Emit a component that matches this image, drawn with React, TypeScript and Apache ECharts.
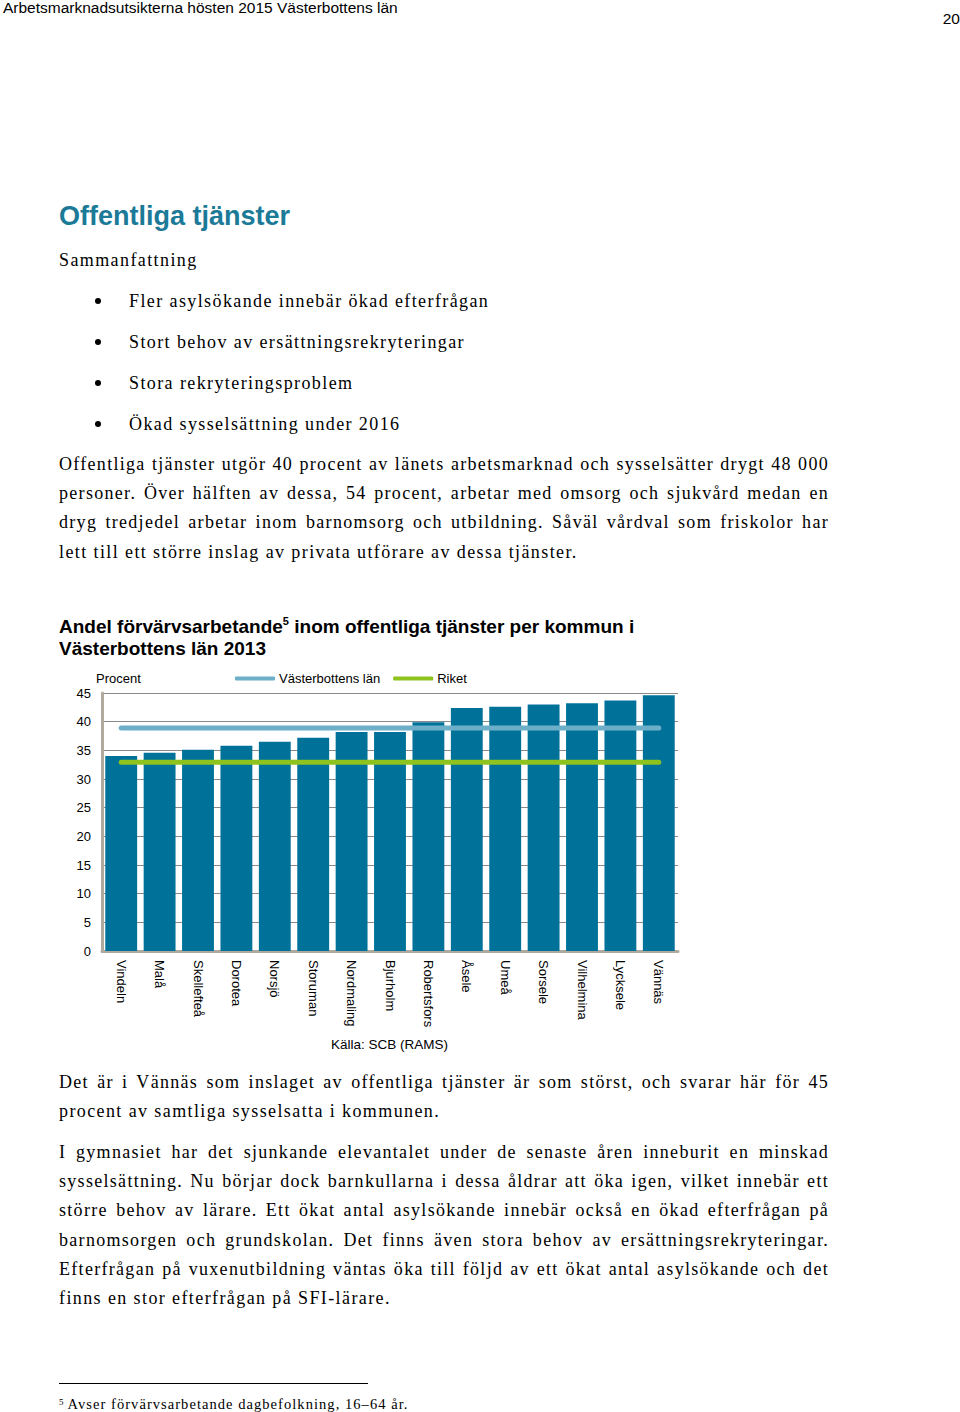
import React, { useEffect, useRef } from "react";
import * as echarts from "echarts";

const municipalities = [
  "Vindeln", "Malå", "Skellefteå", "Dorotea", "Norsjö", "Storuman", "Nordmaling",
  "Bjurholm", "Robertsfors", "Åsele", "Umeå", "Sorsele", "Vilhelmina", "Lycksele", "Vännäs",
];
const shareValues = [34.0, 34.6, 35.1, 35.8, 36.5, 37.2, 38.2, 38.2, 39.9, 42.4, 42.6, 43.0, 43.2, 43.7, 44.6];
const lanValue = 38.9;
const riketValue = 32.9;
const yTicks = [0, 5, 10, 15, 20, 25, 30, 35, 40, 45];

const SERIF = "'Liberation Serif', 'Times New Roman', serif";
const SANS = "'Liberation Sans', Arial, sans-serif";

function Chart() {
  const ref = useRef<HTMLDivElement>(null);
  useEffect(() => {
    if (!ref.current) return;
    const chart = echarts.init(ref.current, undefined, { renderer: "svg" });
    chart.setOption({
      animation: false,
      textStyle: { fontFamily: SANS },
      title: [
        {
          text: "Andel förvärvsarbetande{sup|5} inom offentliga tjänster per kommun i\nVästerbottens län 2013",
          left: 59,
          top: 15,
          padding: 0,
          textStyle: {
            fontFamily: SANS,
            fontSize: 19,
            fontWeight: "bold",
            color: "#000",
            lineHeight: 22,
            rich: {
              sup: { fontSize: 11, fontWeight: "bold", color: "#000", verticalAlign: "top", lineHeight: 22, padding: [0, 0, 8, 0] },
            },
          },
        },
        {
          text: "Källa: SCB (RAMS)",
          left: 331,
          top: 437,
          padding: 0,
          textStyle: { fontFamily: SANS, fontSize: 13.5, fontWeight: "normal", color: "#000" },
        },
      ],
      legend: {
        left: 235,
        top: 72,
        padding: 0,
        icon: "roundRect",
        itemWidth: 40,
        itemHeight: 4,
        itemGap: 13,
        textStyle: { fontFamily: SANS, fontSize: 13, color: "#000", padding: [0, 0, 0, -1] },
        data: ["Västerbottens län", "Riket"],
      },
      grid: { left: 102, right: 282, top: 93, bottom: 109, containLabel: false },
      xAxis: {
        type: "category",
        data: municipalities,
        axisLine: { show: true, lineStyle: { color: "#B0AA9E", width: 3 } },
        axisTick: { show: false },
        axisLabel: { interval: 0, rotate: -90, fontSize: 13, color: "#000", margin: 9, fontFamily: SANS },
      },
      yAxis: {
        type: "value",
        min: 0,
        max: 45,
        interval: 5,
        axisLine: { show: true, lineStyle: { color: "#B0AA9E", width: 3 } },
        axisTick: { show: false },
        axisLabel: {
          fontSize: 13,
          color: "#000",
          margin: 11,
          fontFamily: SANS,
          formatter: (v: number) => (yTicks.includes(v) ? String(v) : ""),
        },
        splitLine: { show: true, lineStyle: { color: "#8A8A8A", width: 1 } },
      },
      graphic: [
        {
          type: "text",
          left: 96,
          top: 72,
          style: { text: "Procent", fontSize: 13, fontFamily: SANS, fill: "#000" },
        },
      ],
      series: [
        {
          name: "Andel",
          type: "bar",
          data: shareValues,
          barCategoryGap: "17%",
          itemStyle: { color: "#00729A" },
          z: 2,
        },
        {
          name: "Västerbottens län",
          type: "line",
          data: municipalities.map(() => lanValue),
          symbol: "none",
          lineStyle: { color: "#6DAFC9", width: 5, cap: "round" },
          itemStyle: { color: "#6DAFC9" },
          z: 3,
        },
        {
          name: "Riket",
          type: "line",
          data: municipalities.map(() => riketValue),
          symbol: "none",
          lineStyle: { color: "#8DC21F", width: 5, cap: "round" },
          itemStyle: { color: "#8DC21F" },
          z: 3,
        },
      ],
    });
    return () => chart.dispose();
  }, []);
  return <div ref={ref} style={{ position: "absolute", left: 0, top: 600, width: 960, height: 460 }} />;
}

type LineProps = {
  text: React.ReactNode;
  cy: number;
  x?: number;
  justify?: boolean;
  width?: number;
};

function SerifLine({ text, cy, x = 59, justify = false, width = 770 }: LineProps) {
  const lh = 24;
  return (
    <div
      style={{
        position: "absolute",
        left: x,
        top: cy - lh / 2,
        width: justify ? width : undefined,
        height: lh,
        lineHeight: `${lh}px`,
        fontFamily: SERIF,
        fontSize: 18,
        letterSpacing: justify ? "1.3px" : "1.4px",
        color: "#000",
        whiteSpace: "nowrap",
        textAlign: justify ? "justify" : "left",
        textAlignLast: justify ? "justify" : "left",
      } as React.CSSProperties}
    >
      {text}
    </div>
  );
}

const bullets = [
  "Fler asylsökande innebär ökad efterfrågan",
  "Stort behov av ersättningsrekryteringar",
  "Stora rekryteringsproblem",
  "Ökad sysselsättning under 2016",
];
const bulletY = [301, 342, 383, 424];

const para1 = [
  "Offentliga tjänster utgör 40 procent av länets arbetsmarknad och sysselsätter drygt 48 000",
  "personer. Över hälften av dessa, 54 procent, arbetar med omsorg och sjukvård medan en",
  "dryg tredjedel arbetar inom barnomsorg och utbildning. Såväl vårdval som friskolor har",
  "lett till ett större inslag av privata utförare av dessa tjänster.",
];
const para1Y = [464, 493, 522, 552];

const para2 = [
  "Det är i Vännäs som inslaget av offentliga tjänster är som störst, och svarar här för 45",
  "procent av samtliga sysselsatta i kommunen.",
];
const para2Y = [1082, 1111];

const para3 = [
  "I gymnasiet har det sjunkande elevantalet under de senaste åren inneburit en minskad",
  "sysselsättning. Nu börjar dock barnkullarna i dessa åldrar att öka igen, vilket innebär ett",
  "större behov av lärare. Ett ökat antal asylsökande innebär också en ökad efterfrågan på",
  "barnomsorgen och grundskolan. Det finns även stora behov av ersättningsrekryteringar.",
  "Efterfrågan på vuxenutbildning väntas öka till följd av ett ökat antal asylsökande och det",
  "finns en stor efterfrågan på SFI-lärare.",
];
const para3Y = [1152, 1181, 1210, 1240, 1269, 1298];

function Paragraph({ lines, ys }: { lines: string[]; ys: number[] }) {
  return (
    <>
      {lines.map((t, i) => (
        <SerifLine key={i} text={t} cy={ys[i]} justify={i < lines.length - 1} />
      ))}
    </>
  );
}

export default function App() {
  return (
    <div
      style={{
        position: "absolute",
        left: 0,
        top: 0,
        width: 960,
        height: 1412,
        background: "#fff",
        overflow: "hidden",
      }}
    >
      <div
        style={{
          position: "absolute",
          left: 3,
          top: -1,
          lineHeight: "17px",
          fontFamily: SANS,
          fontSize: 15.5,
          color: "#000",
          whiteSpace: "nowrap",
        }}
      >
        Arbetsmarknadsutsikterna hösten 2015 Västerbottens län
      </div>
      <div
        style={{
          position: "absolute",
          right: 0,
          top: 10,
          lineHeight: "17px",
          fontFamily: SANS,
          fontSize: 15.5,
          color: "#000",
        }}
      >
        20
      </div>
      <div
        style={{
          position: "absolute",
          left: 59,
          top: 216 - 17,
          lineHeight: "34px",
          fontFamily: SANS,
          fontSize: 27,
          fontWeight: "bold",
          color: "#1B7A97",
          whiteSpace: "nowrap",
        }}
      >
        Offentliga tjänster
      </div>
      <SerifLine text="Sammanfattning" cy={260} />
      {bullets.map((b, i) => (
        <React.Fragment key={i}>
          <div
            style={{
              position: "absolute",
              left: 95,
              top: bulletY[i] - 3,
              width: 6,
              height: 6,
              borderRadius: 3,
              background: "#000",
            }}
          />
          <SerifLine text={b} cy={bulletY[i]} x={129} />
        </React.Fragment>
      ))}
      <Paragraph lines={para1} ys={para1Y} />
      <Chart />
      <Paragraph lines={para2} ys={para2Y} />
      <Paragraph lines={para3} ys={para3Y} />
      <div style={{ position: "absolute", left: 59, top: 1383, width: 309, height: 1, background: "#000" }} />
      <div
        style={{
          position: "absolute",
          left: 59,
          top: 1402 - 10,
          lineHeight: "20px",
          fontFamily: SERIF,
          fontSize: 14.5,
          letterSpacing: "1.05px",
          color: "#000",
          whiteSpace: "nowrap",
        }}
      >
        <span style={{ fontSize: 9, verticalAlign: "4px", marginRight: 3 }}>5</span>
        Avser förvärvsarbetande dagbefolkning, 16–64 år.
      </div>
    </div>
  );
}
